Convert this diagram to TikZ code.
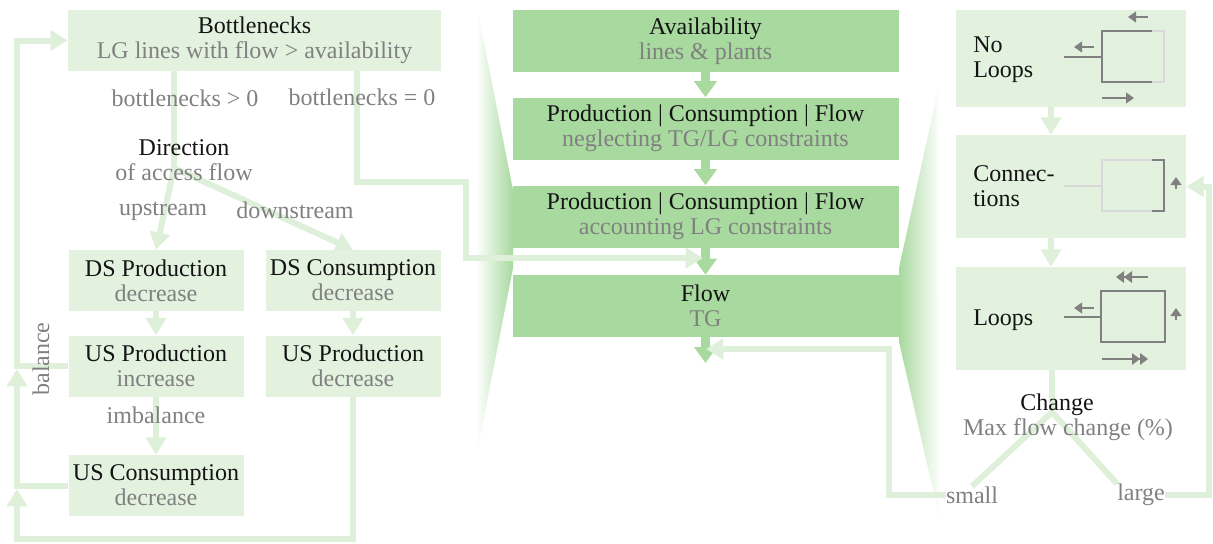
\documentclass[tikz,border=0pt]{standalone}
\usepackage{fontspec}
\setmainfont{Liberation Serif}
\usetikzlibrary{arrows.meta,calc}
\pgfdeclarelayer{back}
\pgfdeclarelayer{mid}
\pgfsetlayers{back,mid,main}
\definecolor{dg}{HTML}{A8D99E}
\definecolor{lgf}{HTML}{E2F2DF}
\definecolor{lgl}{HTML}{DEF0DA}
\definecolor{subc}{HTML}{808080}
\definecolor{titc}{HTML}{141414}
\definecolor{icdk}{HTML}{808080}
\definecolor{iclt}{HTML}{D9D9D9}
\begin{document}
\begin{tikzpicture}[x=0.75pt,y=-0.75pt,
  font=\fontsize{18}{18.75}\selectfont,
  lbox/.style={fill=lgf, inner sep=0pt, align=center, text=titc},
  dbox/.style={fill=dg, inner sep=0pt, align=center, text=titc, minimum width=289.5pt, minimum height=46.5pt},
  sbox/.style={lbox, minimum width=131.25pt, minimum height=45.75pt},
  rbox/.style={lbox, minimum width=172.5pt},
  lbl/.style={text=subc, inner sep=0pt},
  ttl/.style={text=titc, inner sep=0pt, align=center},
  lline/.style={draw=lgl, line width=4.5pt},
  larr/.style={lline, -{Triangle[length=13pt,width=15pt]}},
  darr/.style={draw=dg, line width=7pt, -{Triangle[length=12pt,width=16.5pt]}},
  icdark/.style={draw=icdk, line width=2.2pt},
  iclight/.style={draw=iclt, line width=2.2pt},
  icda/.style={icdark, -{Triangle[length=6pt,width=8pt]}},
  icdd/.style={icdark, -{Triangle[length=6pt,width=8.5pt]Triangle[length=6pt,width=8.5pt]}}
]
\useasboundingbox (0,0) rectangle (1213,543);

% funnels
\begin{pgfonlayer}{back}
\shade[left color=white, right color=dg] (478,12) -- (513,190) -- (513,268) -- (476,458) -- cycle;
\shade[left color=dg, right color=white] (899,268) -- (939,85) -- (940,520) -- (899,342) -- cycle;
\end{pgfonlayer}

% left panel boxes
\node[lbox, minimum width=279.75pt, minimum height=45.75pt] (bn) at (254.5,40.5) {Bottlenecks\\{\color{subc}LG lines with flow > availability}};
\node[sbox] (dsp) at (156,280.5) {DS Production\\{\color{subc}decrease}};
\node[sbox] (dsc) at (353,280.5) {DS Consumption\\{\color{subc}decrease}};
\node[sbox] (uspi) at (156,366) {US Production\\{\color{subc}increase}};
\node[sbox] (uspd) at (353,366) {US Production\\{\color{subc}decrease}};
\node[sbox] (usc) at (156,485.5) {US Consumption\\{\color{subc}decrease}};

% center boxes
\node[dbox] (av) at (705.5,41) {Availability\\{\color{subc}lines \& plants}};
\node[dbox] (p1) at (705.5,128.5) {Production | Consumption | Flow\\{\color{subc}neglecting TG/LG constraints}};
\node[dbox] (p2) at (705.5,216.5) {Production | Consumption | Flow\\{\color{subc}accounting LG constraints}};
\node[dbox] (fl) at (705.5,306) {Flow\\{\color{subc}TG}};

% right boxes
\node[rbox, minimum height=72.75pt] (nl) at (1071,58.5) {};
\node[rbox, minimum height=77.25pt] (co) at (1071,186.5) {};
\node[rbox, minimum height=77.25pt] (lo) at (1071,318.5) {};

% coordinates
\coordinate (sp) at (174,168);
\coordinate (b0) at (357,182);
\coordinate (b1) at (466,182);
\coordinate (b2) at (466,258);
\coordinate (b3) at (703,258);
\coordinate (bl) at (17,539);
\coordinate (t1) at (17,489);
\coordinate (t2) at (17,369);
\coordinate (fo) at (705.5,363);
\coordinate (s1) at (889,497);
\coordinate (s2) at (889,349);
\coordinate (s3) at (706,349);
\coordinate (r1) at (1209,0);
\coordinate (ax) at (1051,0);
\coordinate (cs) at (1052,412);

% labels
\node[lbl] (l1) at (185,98) {bottlenecks > 0};
\node[lbl] (l2) at (362,97) {bottlenecks = 0};
\node[lbl] (up) at (163,211) {upstream};
\node[lbl] (dn) at (295,210) {downstream};
\node[lbl] (imb) at (156,415) {imbalance};
\node[lbl, rotate=90] (bal) at (41,359) {balance};
\node[lbl] (sm) at (972,495) {small};
\node[lbl] (lg) at (1141,495) {large};
\node[ttl] (dir) at (184,160.5) {Direction\\{\color{subc}of access flow}};
\node[ttl, anchor=west, align=left] (nlt) at (973,59.5) {No\\Loops};
\node[ttl, anchor=west, align=left] (cot) at (973,186) {Connec-\\tions};
\node[ttl, anchor=west] (lot) at (973,320) {Loops};
\node[ttl] (chg) at (1057,405) {Change};
\node[lbl] (mfc) at (1068,430) {Max flow change (\%)};

\begin{pgfonlayer}{mid}
% dark arrows
\draw[darr] (av.south) -- (p1.north);
\draw[darr] (p1.south) -- (p2.north);
\draw[darr] (p2.south) -- (fl.north);
\draw[darr] (fl.south) -- (fo);

% left panel connectors
\draw[lline] (bn.south -| sp) -- (sp);
\draw[larr] (sp) -- (dsp.north);
\draw[larr] (sp) -- (dsc.north);
\draw[larr] (bn.south -| b0) -- (b0) -- (b1) -- (b2) -- (b3);
\draw[larr] (dsp.south) -- (uspi.north);
\draw[larr] (dsc.south) -- (uspd.north);
\draw[larr] (uspi.south) -- (usc.north);
\draw[larr] (uspd.south) -- (uspd.south |- bl) -- (bl) -- (t1);
\draw[larr] (usc.west) -- (usc.west -| bl) -- (t2);
\draw[larr] (uspi.west) -- (uspi.west -| bl) -- (bl |- bn.west) -- (bn.west);

% right panel connectors
\draw[larr] (nl.south -| ax) -- (co.north -| ax);
\draw[larr] (co.south -| ax) -- (lo.north -| ax);
\draw[lline] (lo.south -| cs) -- (cs);
\draw[lline] (cs) -- (sm.north);
\draw[lline] (cs) -- (lg.north west);
\draw[larr] (sm.west) -- (sm.west -| s1) -- (s2) -- (s3);
\draw[larr] (lg.east) -- (lg.east -| r1) -- (r1 |- co.east) -- (co.east);
\end{pgfonlayer}

% icons: no loops
\draw[icdark] (1064,57) -- (1102,57);
\draw[icdark] (1152,31) -- (1102,31) -- (1102,82) -- (1152,82);
\draw[iclight] (1152,31) -- (1164,31) -- (1164,82) -- (1152,82);
\draw[icda] (1148,17) -- (1128,17);
\draw[icda] (1094,47) -- (1074,47);
\draw[icda] (1102,98) -- (1134,98);
% icons: connections
\draw[iclight] (1064,186) -- (1102,186);
\draw[iclight] (1152,160) -- (1102,160) -- (1102,211) -- (1152,211);
\draw[icdark] (1152,160) -- (1164,160) -- (1164,211) -- (1152,211);
\draw[icda] (1176,189) -- (1176,177);
% icons: loops
\draw[icdark] (1064,317) -- (1101,317);
\draw[icdark] (1101,291) rectangle (1165,342);
\draw[icdd] (1148,277) -- (1116,277);
\draw[icda] (1094,308) -- (1074,308);
\draw[icda] (1176,320) -- (1176,308);
\draw[icdd] (1102,359) -- (1148,359);
\end{tikzpicture}
\end{document}
